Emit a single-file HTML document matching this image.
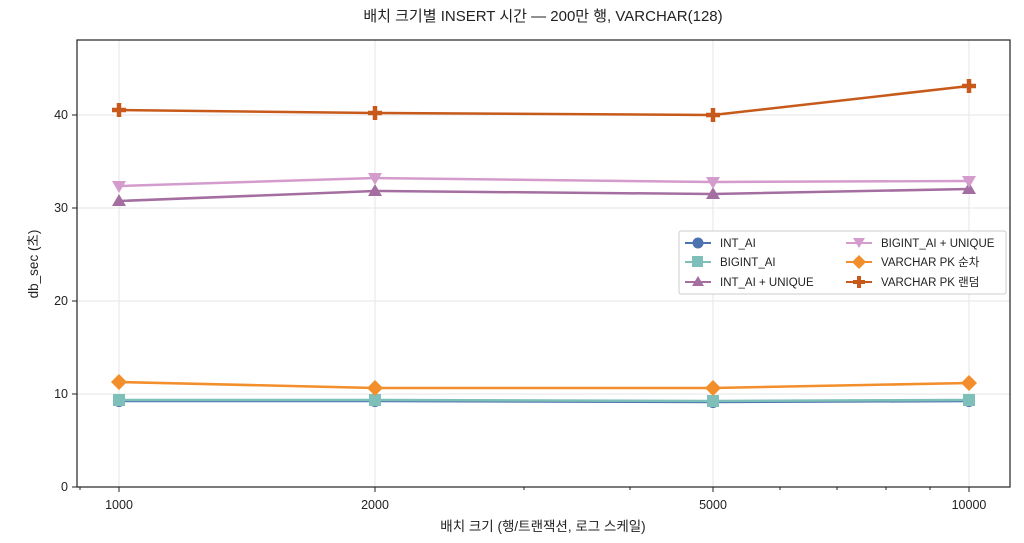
<!DOCTYPE html>
<html><head><meta charset="utf-8"><style>
body{margin:0;background:#fff}
svg text{font-family:"Liberation Sans","Noto Sans CJK KR",sans-serif;fill:#222}
</style></head><body>
<svg width="1024" height="538" viewBox="0 0 1024 538" xmlns="http://www.w3.org/2000/svg">
<rect width="1024" height="538" fill="#fff"/>
<text x="543" y="21" font-size="15" text-anchor="middle">배치 크기별 INSERT 시간 — 200만 행, VARCHAR(128)</text>
<g stroke="#e6e6e6" stroke-width="1">
<line x1="119" y1="40" x2="119" y2="487"/><line x1="375" y1="40" x2="375" y2="487"/>
<line x1="713" y1="40" x2="713" y2="487"/><line x1="969" y1="40" x2="969" y2="487"/>
<line x1="77" y1="394" x2="1010" y2="394"/><line x1="77" y1="301" x2="1010" y2="301"/>
<line x1="77" y1="208" x2="1010" y2="208"/><line x1="77" y1="115" x2="1010" y2="115"/>
</g>
<rect x="77" y="40" width="933" height="447" fill="none" stroke="#222" stroke-width="1.2"/>
<g stroke="#222" stroke-width="1">
<line x1="119" y1="487" x2="119" y2="492"/><line x1="375" y1="487" x2="375" y2="492"/>
<line x1="713" y1="487" x2="713" y2="492"/><line x1="969" y1="487" x2="969" y2="492"/>
<line x1="80" y1="487" x2="80" y2="490"/><line x1="524" y1="487" x2="524" y2="490"/>
<line x1="630" y1="487" x2="630" y2="490"/><line x1="780" y1="487" x2="780" y2="490"/>
<line x1="837" y1="487" x2="837" y2="490"/><line x1="886" y1="487" x2="886" y2="490"/>
<line x1="930" y1="487" x2="930" y2="490"/>
<line x1="72" y1="487" x2="77" y2="487"/><line x1="72" y1="394" x2="77" y2="394"/>
<line x1="72" y1="301" x2="77" y2="301"/><line x1="72" y1="208" x2="77" y2="208"/>
<line x1="72" y1="115" x2="77" y2="115"/>
</g>
<g font-size="12.5" text-anchor="middle">
<text x="119" y="509">1000</text><text x="375" y="509">2000</text>
<text x="713" y="509">5000</text><text x="969" y="509">10000</text>
</g>
<g font-size="12.5" text-anchor="end">
<text x="68" y="491">0</text><text x="68" y="398">10</text><text x="68" y="305">20</text>
<text x="68" y="212">30</text><text x="68" y="119">40</text>
</g>
<text x="543" y="531" font-size="13.5" text-anchor="middle">배치 크기 (행/트랜잭션, 로그 스케일)</text>
<text transform="translate(38,264) rotate(-90)" font-size="13.5" text-anchor="middle">db_sec (초)</text>
<g fill="none" stroke-width="2.5">
<polyline stroke="#4c72b0" points="119,401 375,401 713,402 969,401"/>
<polyline stroke="#7fbfb9" points="119,400 375,400 713,401 969,400"/>
<polyline stroke="#a56ea0" points="119,201 375,191 713,194 969,189"/>
<polyline stroke="#d49ccc" points="119,186 375,178 713,182 969,181"/>
<polyline stroke="#f28e2b" points="119,382 375,388 713,388 969,383"/>
<polyline stroke="#c75a1a" points="119,110 375,113 713,115 969,86"/>
</g>
<g fill="#4c72b0"><circle cx="119" cy="401" r="6"/><circle cx="375" cy="401" r="6"/><circle cx="713" cy="402" r="6"/><circle cx="969" cy="401" r="6"/></g>
<g fill="#7fbfb9"><rect x="113" y="394" width="12" height="12"/><rect x="369" y="394" width="12" height="12"/><rect x="707" y="395" width="12" height="12"/><rect x="963" y="394" width="12" height="12"/></g>
<g fill="#a56ea0"><path d="M119,194 l7,12 h-14z"/><path d="M375,184 l7,12 h-14z"/><path d="M713,187 l7,12 h-14z"/><path d="M969,182 l7,12 h-14z"/></g>
<g fill="#d49ccc"><path d="M119,193 l7,-12 h-14z"/><path d="M375,185 l7,-12 h-14z"/><path d="M713,189 l7,-12 h-14z"/><path d="M969,188 l7,-12 h-14z"/></g>
<g fill="#f28e2b"><path d="M119,374 l8,8 -8,8 -8,-8z"/><path d="M375,380 l8,8 -8,8 -8,-8z"/><path d="M713,380 l8,8 -8,8 -8,-8z"/><path d="M969,375 l8,8 -8,8 -8,-8z"/></g>
<g stroke="#c75a1a" stroke-width="4.5"><path d="M119,103 v14 M112,110 h14"/><path d="M375,106 v14 M368,113 h14"/><path d="M713,108 v14 M706,115 h14"/><path d="M969,79 v14 M962,86 h14"/></g>
<rect x="679" y="231" width="327" height="63" fill="#fff" stroke="#ccc" rx="2"/>
<g font-size="11.5">
<line x1="685" y1="243" x2="711" y2="243" stroke="#4c72b0" stroke-width="2"/><circle cx="698" cy="243" r="5.5" fill="#4c72b0"/><text x="720" y="247">INT_AI</text>
<line x1="685" y1="262" x2="711" y2="262" stroke="#7fbfb9" stroke-width="2"/><rect x="692" y="256" width="11" height="11" fill="#7fbfb9"/><text x="720" y="266">BIGINT_AI</text>
<line x1="685" y1="282" x2="711" y2="282" stroke="#a56ea0" stroke-width="2"/><path d="M698,276 l6,10 h-12z" fill="#a56ea0"/><text x="720" y="286">INT_AI + UNIQUE</text>
<line x1="846" y1="243" x2="872" y2="243" stroke="#d49ccc" stroke-width="2"/><path d="M859,248 l6,-10 h-12z" fill="#d49ccc"/><text x="881" y="247">BIGINT_AI + UNIQUE</text>
<line x1="846" y1="262" x2="872" y2="262" stroke="#f28e2b" stroke-width="2"/><path d="M859,255 l7,7 -7,7 -7,-7z" fill="#f28e2b"/><text x="881" y="266">VARCHAR PK 순차</text>
<line x1="846" y1="282" x2="872" y2="282" stroke="#c75a1a" stroke-width="2"/><path d="M859,276 v12 M853,282 h12" stroke="#c75a1a" stroke-width="4"/><text x="881" y="286">VARCHAR PK 랜덤</text>
</g>
</svg>
</body></html>
